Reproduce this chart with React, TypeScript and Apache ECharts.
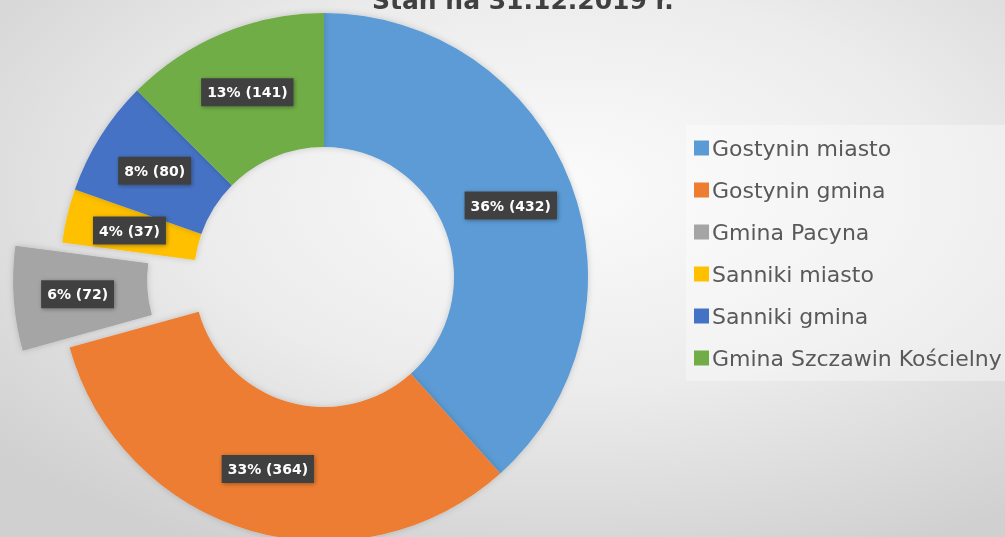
import React, { useEffect, useRef } from "react";
import * as echarts from "echarts";

const categories = [
  "Gostynin miasto",
  "Gostynin gmina",
  "Gmina Pacyna",
  "Sanniki miasto",
  "Sanniki gmina",
  "Gmina Szczawin Kościelny",
];
const values = [432, 364, 72, 37, 80, 141];
const percentLabels = [36, 33, 6, 4, 8, 13];
const colors = ["#5B9BD5", "#ED7D31", "#A5A5A5", "#FFC000", "#4472C4", "#70AD47"];
const explodedIndex = 2;
const titleText = "Stan na 31.12.2019 r.";

export default function App() {
  const ref = useRef<HTMLDivElement>(null);
  useEffect(() => {
    if (!ref.current) return;
    const chart = echarts.init(ref.current, undefined, { renderer: "svg" });
    chart.setOption({
      animation: false,
      backgroundColor: {
        type: "radial",
        x: 0.56,
        y: 0.35,
        r: 0.75,
        colorStops: [
          { offset: 0, color: "#fbfbfb" },
          { offset: 0.5, color: "#ececec" },
          { offset: 1, color: "#d0d0d0" },
        ],
      },
      title: {
        text: titleText,
        left: 372,
        top: -12,
        padding: 0,
        textStyle: {
          fontFamily: "DejaVu Sans",
          fontWeight: "bold",
          fontSize: 25,
          lineHeight: 25,
          color: "#404040",
        },
      },
      legend: {
        orient: "vertical",
        left: 686,
        top: 125,
        itemWidth: 15,
        itemHeight: 15,
        itemGap: 20,
        icon: "rect",
        padding: [12, 10, 12, 8],
        backgroundColor: "rgba(255,255,255,0.35)",
        textStyle: {
          fontFamily: "DejaVu Sans",
          fontSize: 22,
          color: "#595959",
          padding: [0, 0, 0, -2],
        },
        data: categories,
        selectedMode: false,
      },
      series: [
        {
          type: "pie",
          center: [324, 277],
          radius: [130, 264],
          startAngle: 90,
          clockwise: true,
          selectedMode: "single",
          selectedOffset: 47,
          avoidLabelOverlap: false,
          itemStyle: {
            shadowBlur: 6,
            shadowColor: "rgba(0,0,0,0.18)",
          },
          emphasis: { disabled: true },
          label: {
            show: true,
            position: "inside",
            formatter: (p: any) => `${percentLabels[p.dataIndex]}% (${p.value})`,
            fontFamily: "DejaVu Sans",
            fontWeight: "bold",
            fontSize: 14,
            color: "#ffffff",
            backgroundColor: "#404040",
            padding: [7, 6, 7, 6],
            shadowBlur: 4,
            shadowColor: "rgba(0,0,0,0.35)",
            shadowOffsetX: 1,
            shadowOffsetY: 1,
          },
          labelLine: { show: false },
          data: categories.map((name, i) => ({
            name,
            value: values[i],
            selected: i === explodedIndex,
            itemStyle: { color: colors[i] },
          })),
        },
      ],
    });
    return () => chart.dispose();
  }, []);
  return (
    <div
      ref={ref}
      style={{ position: "fixed", left: 0, top: 0, width: 1005, height: 537 }}
    />
  );
}
